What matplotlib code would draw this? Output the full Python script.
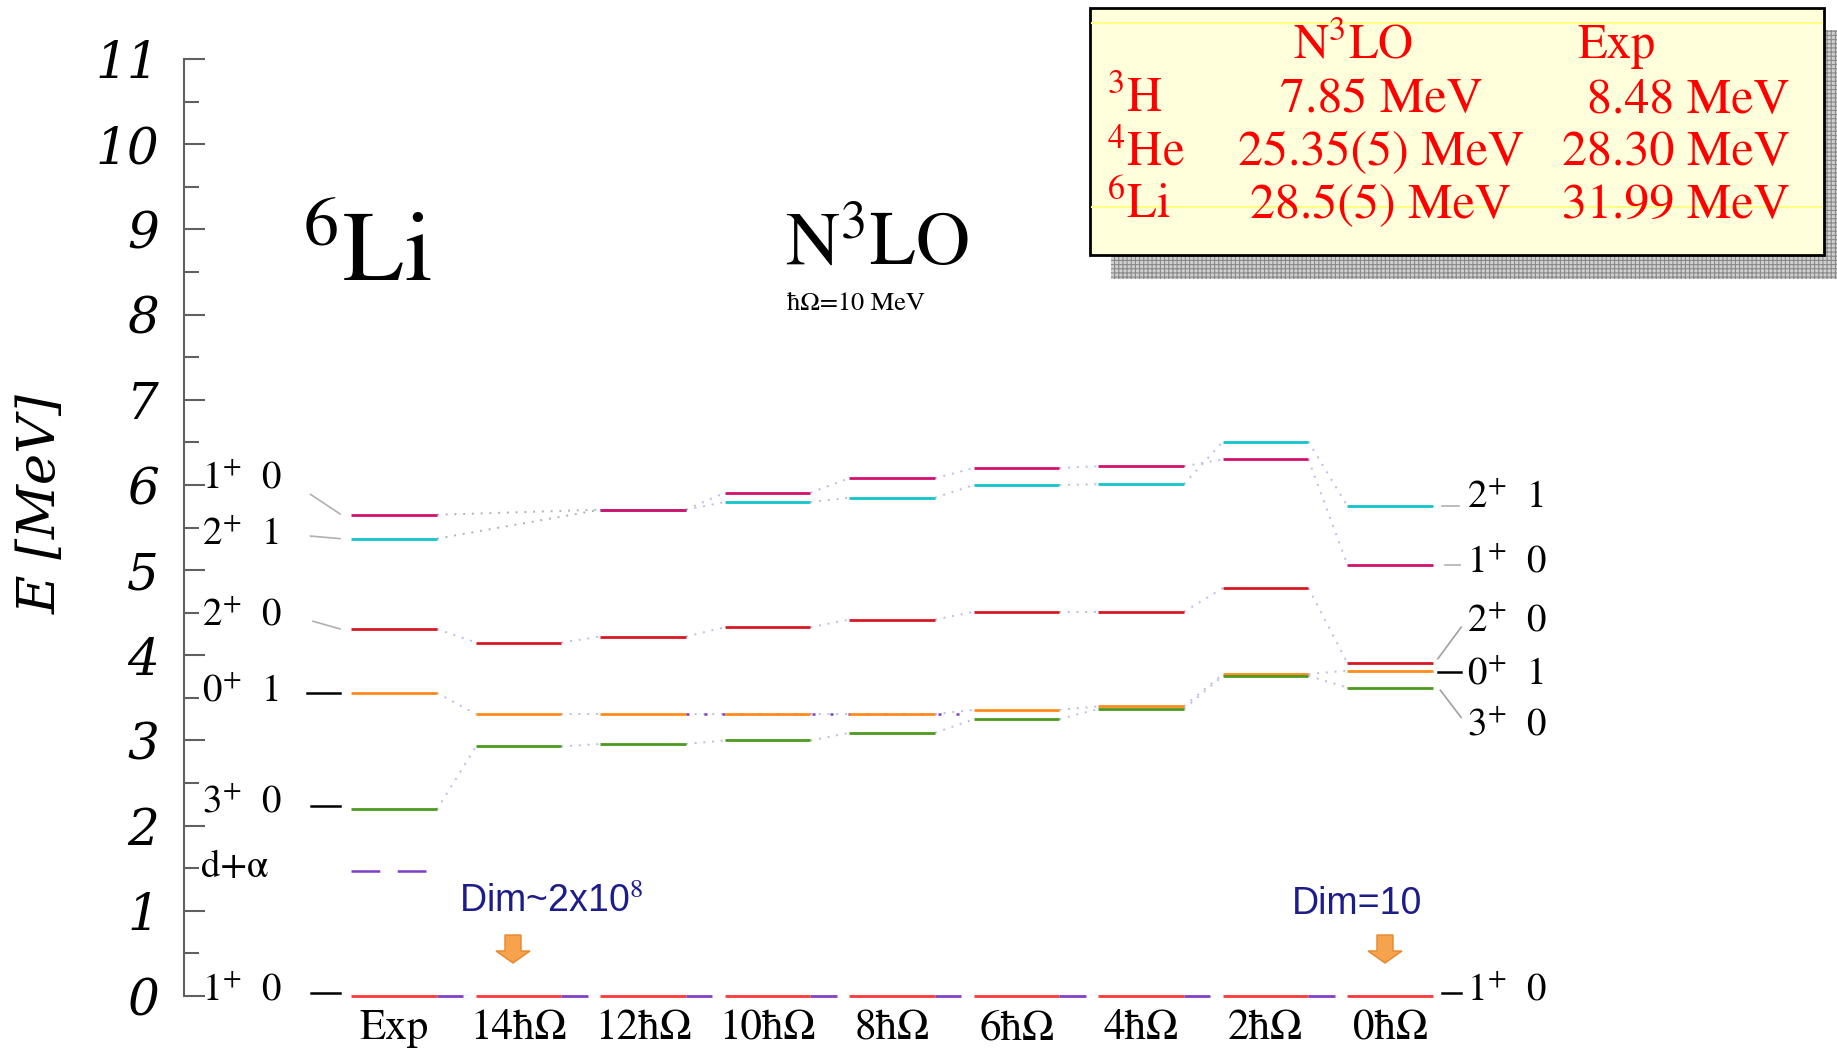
import numpy as np
import matplotlib.pyplot as plt
from matplotlib.patches import Rectangle, FancyArrow

plt.rcParams['mathtext.fontset'] = 'stix'
plt.rcParams['hatch.color'] = '#8a8a8a'
plt.rcParams['hatch.linewidth'] = 0.8

W, H = 1837, 1053

columns = ['Exp', '14ħΩ', '12ħΩ', '10ħΩ', '8ħΩ', '6ħΩ', '4ħΩ', '2ħΩ', '0ħΩ']

# excitation energies (MeV) per column, nan = no level drawn
e_1p0 = [5.65, np.nan, 5.71, 5.91, 6.08, 6.20, 6.22, 6.30, 5.06]
e_2p1 = [5.37, np.nan, 5.71, 5.80, 5.85, 6.00, 6.01, 6.51, 5.75]
e_2p0 = [4.31, 4.15, 4.22, 4.33, 4.42, 4.51, 4.51, 4.79, 3.91]
e_0p1 = [3.56, 3.31, 3.31, 3.31, 3.31, 3.36, 3.40, 3.78, 3.82]
e_3p0 = [2.19, 2.93, 2.96, 3.00, 3.09, 3.25, 3.37, 3.76, 3.62]
e_gs = [0.0, 0.0, 0.0, 0.0, 0.0, 0.0, 0.0, 0.0, 0.0]
e_dalpha = 1.47

left_labels = ['$1^{+}$  0', '$2^{+}$  1', '$2^{+}$  0', '$0^{+}$  1', '$3^{+}$  0', 'd+α', '$1^{+}$  0']
right_labels = ['$2^{+}$  1', '$1^{+}$  0', '$2^{+}$  0', '$0^{+}$  1', '$3^{+}$  0', '$1^{+}$  0']

nuclei = ['$^{3}$H', '$^{4}$He', '$^{6}$Li']
be_n3lo = ['7.85 MeV', '25.35(5) MeV', '28.5(5) MeV']
be_exp = ['8.48 MeV', '28.30 MeV', '31.99 MeV']

states = [
    (e_2p1, '#12c4cc'),
    (e_1p0, '#d4106e'),
    (e_2p0, '#d81822'),
    (e_0p1, '#ff8c1c'),
    (e_3p0, '#4c9a1e'),
]

fig = plt.figure(figsize=(W / 100, H / 100), dpi=100)

# pixel overlay for titles / table
ov = fig.add_axes([0, 0, 1, 1])
ov.set_xlim(0, W)
ov.set_ylim(H, 0)
ov.axis('off')

ax = fig.add_axes([0, 0, 1, 1])
ax.patch.set_visible(False)
x0, step = 394.2, 124.5
ax.set_xlim(-x0 / step, (W - x0) / step)
ax.set_ylim(-(H - 996) / 85.17, 996 / 85.17)

for s in ['top', 'right', 'bottom']:
    ax.spines[s].set_visible(False)
ax.spines['left'].set_position(('data', (184 - x0) / step))
ax.spines['left'].set_bounds(0, 11)
ax.spines['left'].set_color('#606060')
ax.spines['left'].set_linewidth(1.5)
ax.set_xticks([])
ax.set_yticks(range(12))
ax.set_yticks(np.arange(0.5, 11, 1), minor=True)
ax.tick_params(axis='y', which='major', direction='in', length=15, width=1.5,
               color='#606060', pad=18, labelsize=36)
ax.tick_params(axis='y', which='minor', direction='in', length=11, width=1.5, color='#606060')
for t in ax.get_yticklabels():
    t.set_fontfamily('DejaVu Serif')
    t.set_fontstyle('italic')

ax.text((41 - x0) / step, 5.78, 'E [MeV]', rotation=90, ha='center', va='center',
        fontsize=38, fontfamily='DejaVu Serif', fontstyle='italic')

xs = np.arange(len(columns))
hw = 0.343

# dotted connectors between calculations
for vals, col in states:
    v = np.array(vals, dtype=float)
    ok = np.where(~np.isnan(v))[0]
    for a, b in zip(ok[:-1], ok[1:]):
        ccol = '#b0b0bc' if a == 0 and vals in (e_1p0, e_2p1) else '#bcbce6'
        ax.plot([xs[a] + hw, xs[b] - hw], [v[a], v[b]], color=ccol, lw=1.4,
                ls=(0, (1, 3.5)), zorder=1)

for vals, col in states:
    v = np.array(vals, dtype=float)
    m = ~np.isnan(v)
    ax.hlines(v[m], xs[m] - hw, xs[m] + hw, color=col, lw=2.0, zorder=3)

# purple dots along the 0+1 plateau
ax.plot([xs[2] + hw, xs[5] - hw], [e_0p1[3], e_0p1[3]], color='#7b3fc8', lw=1.8,
        ls=(0, (1.2, 6)), zorder=2)

# ground state: red level with purple tail
ax.hlines(e_gs, xs - hw, xs + hw, color='#ff3838', lw=2.0, zorder=3)
ax.hlines(e_gs[:-1], xs[:-1] + hw, xs[:-1] + hw + 0.21, color='#8040c8', lw=2.0, zorder=3)

# d+alpha threshold
ax.hlines(e_dalpha, xs[0] - hw, xs[0] + hw, color='#7b3fc8', lw=1.8,
          linestyles=(0, (11.5, 7)), zorder=3)

# left level labels and ties
lx = (201.5 - x0) / step
left_y = [6.08, 5.42, 4.47, 3.58, 2.28, 1.51, 0.07]
for lab, yy in zip(left_labels, left_y):
    ax.text(lx, yy, lab, ha='left', va='center', fontsize=28, fontfamily='STIXGeneral')
gx0, gx1 = (310.5 - x0) / step, (340 - x0) / step
ax.plot([gx0, gx1], [5.89, e_1p0[0] + 0.01], color='#b0b0b0', lw=1.2)
ax.plot([gx0, gx1], [5.40, e_2p1[0]], color='#b0b0b0', lw=1.2)
ax.plot([gx0 + 0.02, gx1], [4.40, e_2p0[0]], color='#b0b0b0', lw=1.2)
ax.plot([gx0 - 0.03, gx1], [e_0p1[0], e_0p1[0]], color='black', lw=1.8)
ax.plot([gx0, gx1], [2.23, 2.23], color='black', lw=1.8)
ax.plot([gx0, gx1], [0.03, 0.03], color='black', lw=1.8)

# right level labels and ties
rx = (1466.8 - x0) / step
right_y = [5.85, 5.10, 4.40, 3.78, 3.18, 0.07]
for lab, yy in zip(right_labels, right_y):
    ax.text(rx, yy, lab, ha='left', va='center', fontsize=28, fontfamily='STIXGeneral')
r0 = xs[-1] + hw + 0.04
ax.plot([r0 + 0.03, 8.55], [e_2p1[-1], e_2p1[-1]], color='#b0b0b0', lw=1.2)
ax.plot([r0 + 0.06, 8.56], [e_1p0[-1], e_1p0[-1]], color='#b0b0b0', lw=1.2)
ax.plot([r0, 8.57], [3.96, 4.33], color='#a0a0a0', lw=1.2)
ax.plot([r0, 8.57], [3.81, 3.81], color='black', lw=1.8)
ax.plot([r0 + 0.02, 8.57], [3.59, 3.27], color='#a0a0a0', lw=1.2)
ax.plot([r0 + 0.03, 8.57], [0.03, 0.03], color='black', lw=1.8)

# column names
for x, c in zip(xs, columns):
    ax.text(x, -0.39, c, ha='center', va='center', fontsize=31, fontfamily='STIXGeneral')

# titles
ov.text(367, 281, '$^{6}$Li', ha='center', va='baseline', fontsize=72, fontfamily='STIXGeneral')
ov.text(877, 264, 'N$^{3}$LO', ha='center', va='baseline', fontsize=54, fontfamily='STIXGeneral')
ov.text(787, 310, 'ħΩ=10 MeV', ha='left', va='baseline', fontsize=19, fontfamily='STIXGeneral')

# dimension notes
ov.text(459, 902, 'Dim~2x10$^{8}$', ha='left', va='center', fontsize=27,
        fontfamily='Liberation Sans', color='#1c1c8a')
ov.text(1292, 904, 'Dim=10', ha='left', va='center', fontsize=27,
        fontfamily='Liberation Sans', color='#1c1c8a')
for ax_ in (513, 1385):
    ov.add_patch(FancyArrow(ax_, 935, 0, 28, width=16, head_width=34, head_length=12,
                            length_includes_head=True, fc='#f7a24c', ec='#e8862a', lw=1))

# binding energy table
ov.add_patch(Rectangle((1111, 30), 726, 249, fc='#d0d0d0', ec='#8a8a8a', lw=0,
                       hatch='++++', zorder=1))
ov.add_patch(Rectangle((1090, 8), 734, 247, fc='#ffffdc', ec='black', lw=2, zorder=2))
ov.plot([1092, 1822], [23, 23], color='#ffff80', lw=1.5, zorder=3)
ov.plot([1092, 1822], [207, 207], color='#ffff80', lw=1.5, zorder=3)
ov.text(1353, 47, 'N$^{3}$LO', ha='center', va='center', fontsize=35,
        fontfamily='STIXGeneral', color='red', zorder=4)
ov.text(1617, 47, 'Exp', ha='center', va='center', fontsize=35,
        fontfamily='STIXGeneral', color='red', zorder=4)
for i, (nuc, a, b) in enumerate(zip(nuclei, be_n3lo, be_exp)):
    yy = 100 + 53 * i
    ov.text(1107, yy, nuc, ha='left', va='center', fontsize=35,
            fontfamily='STIXGeneral', color='red', zorder=4)
    ov.text(1381, yy, a, ha='center', va='center', fontsize=36,
            fontfamily='STIXGeneral', color='red', zorder=4)
    ov.text(1790, yy, b, ha='right', va='center', fontsize=36,
            fontfamily='STIXGeneral', color='red', zorder=4)

plt.savefig('out.png', dpi=100)
